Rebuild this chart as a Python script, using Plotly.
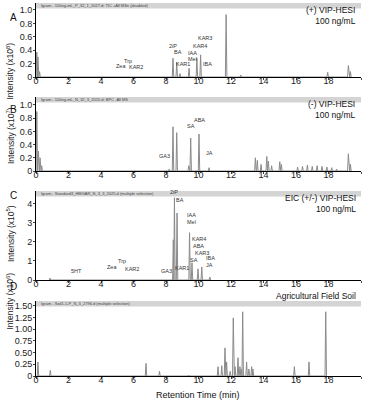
import plotly.graph_objects as go
from plotly.subplots import make_subplots

# ---------------- data ----------------
# Panel A: (+) VIP-HESI TIC, intensity x10^8
A_times   = [0.05, 0.12, 0.22, 8.43, 8.66, 8.86, 9.42, 9.90, 10.13, 11.70, 12.60, 17.95, 19.22, 19.35]
A_heights = [0.37, 0.30, 0.08, 0.28, 0.22, 0.05, 0.13, 0.28, 0.33, 0.93, 0.03, 0.07, 0.17, 0.08]
A_labels  = ["Zea", "Trp", "KAR2", "2iP", "BA", "KAR1", "IAA", "Mel", "KAR4", "KAR3", "IBA"]
A_lab_x   = [5.20, 5.66, 6.15, 8.40, 8.75, 9.05, 9.66, 9.66, 10.10, 10.40, 10.55]
A_lab_y   = [0.16, 0.24, 0.15, 0.46, 0.37, 0.20, 0.36, 0.27, 0.46, 0.58, 0.20]

# Panel B: (-) VIP-HESI BPC, intensity x10^7
B_times   = [0.05, 0.15, 0.25, 0.35, 8.20, 8.43, 8.66, 9.40, 9.52, 10.03, 10.65,
             13.50, 13.62, 13.85, 14.20, 14.30, 14.50, 15.00, 15.10,
             16.10, 16.40, 16.70, 17.00, 17.30, 17.60, 17.90, 18.20, 18.50, 19.22, 19.35]
B_heights = [0.90, 0.30, 0.20, 0.08, 0.03, 0.67, 0.58, 0.08, 0.50, 0.56, 0.05,
             0.20, 0.16, 0.10, 0.22, 0.15, 0.08, 0.14, 0.10,
             0.06, 0.07, 0.09, 0.07, 0.08, 0.07, 0.06, 0.05, 0.03, 0.26, 0.10]
B_labels  = ["GA3", "SA", "ABA", "JA"]
B_lab_x   = [7.90, 9.55, 10.05, 10.70]
B_lab_y   = [0.23, 0.68, 0.77, 0.27]

# Panel C: EIC (+/-) VIP-HESI, intensity x10^5
C_times   = [0.86, 8.45, 8.52, 8.68, 9.45, 9.60, 9.97, 10.20, 10.70]
C_heights = [0.10, 2.10, 4.30, 3.50, 2.47, 0.90, 0.58, 0.68, 0.15]
C_labels  = ["5HT", "Zea", "Trp", "KAR2", "GA3", "2iP", "BA", "IAA", "Mel",
             "KAR4", "ABA", "KAR3", "SA", "IBA", "JA", "KAR1"]
C_lab_x   = [2.50, 4.70, 5.30, 5.90, 8.05, 8.50, 8.86, 9.55, 9.55,
             10.00, 10.00, 10.20, 9.70, 10.75, 10.70, 9.00]
C_lab_y   = [0.47, 0.70, 1.00, 0.60, 0.47, 4.60, 4.17, 3.40, 3.05,
             2.15, 1.80, 1.40, 1.05, 1.15, 0.80, 0.63]

# Panel D: Agricultural field soil, intensity x10^6
D_times   = [0.12, 0.88, 6.77, 7.60, 9.40, 11.20, 11.43, 11.63, 11.73, 11.95, 12.14,
             12.25, 12.43, 12.55, 12.65, 12.72, 12.96, 13.10, 13.27, 13.35,
             15.90, 16.80, 17.83]
D_heights = [0.30, 0.12, 0.27, 0.10, 0.02, 0.20, 0.22, 0.60, 0.30, 0.10, 1.24,
             0.20, 0.39, 0.20, 0.15, 1.37, 0.30, 0.15, 0.20, 0.15,
             0.20, 0.30, 1.37]

A_yticks = [0, 0.2, 0.4, 0.6, 0.8, 1.0]
A_yticktext = ["0", "0.2", "0.4", "0.6", "0.8", "1.0"]
C_yticks = [0, 1, 2, 3, 4]
C_yticktext = ["0", "1", "2", "3", "4"]
D_yticks = [0, 0.25, 0.5, 0.75, 1.0, 1.25, 1.5]
D_yticktext = ["0", "0.25", "0.50", "0.75", "1.00", "1.25", "1.50"]
x_ticks = [0, 2, 4, 6, 8, 10, 12, 14, 16, 18, 20]

y_titles = ["Intensity (x10<sup>8</sup>)", "Intensity (x10<sup>7</sup>)",
            "Intensity (x10<sup>5</sup>)", "Intensity (x10<sup>6</sup>)"]
headers = ["Igram - 100ng-mL_P_32_1_2027.d: TIC +All MSn (disabled)",
           "Igram - 100ng-mL_N_32_3_2015.d: BPC -All MS",
           "Igram - Standard3_HMGAR_N_3_3_2025.d (multiple selection)",
           "Igram - Soil1-1-P_N_3_2796.d (multiple selection)"]
corner_texts = ["(+) VIP-HESI<br>100 ng/mL", "(-) VIP-HESI<br>100 ng/mL",
                "EIC (+/-) VIP-HESI<br>100 ng/mL"]

# ---------------- layout geometry ----------------
W, H = 366, 400
ML, MR, MT, MB = 36, 5, 2, 24
PH = H - MT - MB
PW = W - ML - MR
def dom(top_px, bot_px):
    return [(H - MB - bot_px) / PH, (H - MB - top_px) / PH]

domains = [dom(3, 77), dom(97, 171), dom(191, 280), dom(301, 376)]
yranges = [[0, 1.104], [0, 1.12], [0, 4.65], [0, 1.6]]
ytitle_px = [41, 136, 234, 332]

FONT = "Liberation Sans, Arial, sans-serif"
LINE = "#8a8a8a"
W_PEAK = 0.045

def trace_xy(times, heights):
    pts = sorted(zip(times, heights))
    xs, ys = [], []
    for t, h in pts:
        xs += [max(t - W_PEAK, 0), t, t + W_PEAK]
        ys += [0, h, 0]
    return xs, ys

fig = make_subplots(rows=4, cols=1)

series = [(A_times, A_heights), (B_times, B_heights), (C_times, C_heights), (D_times, D_heights)]
for i, (t, h) in enumerate(series):
    xs, ys = trace_xy(t, h)
    fig.add_trace(go.Scatter(x=xs, y=ys, mode="lines", line=dict(color=LINE, width=1),
                             hoverinfo="skip", showlegend=False), row=i + 1, col=1)

ytick_sets = [(A_yticks, A_yticktext), (A_yticks, A_yticktext),
              (C_yticks, C_yticktext), (D_yticks, D_yticktext)]

for i in range(4):
    n = "" if i == 0 else str(i + 1)
    fig.layout["xaxis" + n].update(
        domain=[0, 1], range=[0, 20], tickvals=x_ticks, ticks="outside", ticklen=2,
        ticklabelstandoff=-7,
        showline=True, linecolor="black", linewidth=1, showgrid=False, zeroline=False,
        tickfont=dict(size=9, color="#222", family=FONT))
    tv, tt = ytick_sets[i]
    fig.layout["yaxis" + n].update(
        domain=domains[i], range=yranges[i], tickvals=tv, ticktext=tt, ticks="outside",
        ticklen=2, ticklabelstandoff=-1, showline=True, linecolor="black", linewidth=1,
        showgrid=False, zeroline=False, tickfont=dict(size=9, color="#222", family=FONT))
    # gray header bar
    hb = 5.5 / ((domains[i][1] - domains[i][0]) * PH)
    fig.add_shape(type="rect", xref="x" + n + " domain", yref="y" + n + " domain",
                  x0=0, x1=1, y0=1 - hb, y1=1, fillcolor="#d4d4d4", line=dict(width=0),
                  layer="below")
    fig.add_annotation(xref="x" + n + " domain", yref="y" + n + " domain", x=0.01, y=1 - hb / 2,
                       text=headers[i], showarrow=False, xanchor="left", yanchor="middle",
                       font=dict(size=4, color="#444", family=FONT))
    # y-axis title
    fig.add_annotation(xref="paper", yref="paper", x=(10 - ML) / PW,
                       y=(H - MB - ytitle_px[i]) / PH,
                       xanchor="center", text=y_titles[i], textangle=-90, showarrow=False,
                       font=dict(size=8.5, color="#222", family=FONT))

# corner texts
for i, txt in enumerate(corner_texts):
    n = "" if i == 0 else str(i + 1)
    fig.add_annotation(xref="x" + n + " domain", yref="y" + n + " domain", x=0.99, y=1.0,
                       text=txt, showarrow=False, xanchor="right", yanchor="top", align="right",
                       font=dict(size=8.5, color="#111", family=FONT))
fig.add_annotation(xref="x4 domain", yref="paper", x=0.99, y=(H - MB - 295.5) / PH,
                   text="Agricultural Field Soil", showarrow=False, xanchor="right",
                   yanchor="middle", font=dict(size=8.5, color="#111", family=FONT))

# peak labels
for i, (labs, lx, ly) in enumerate([(A_labels, A_lab_x, A_lab_y), (B_labels, B_lab_x, B_lab_y),
                                    (C_labels, C_lab_x, C_lab_y)]):
    n = "" if i == 0 else str(i + 1)
    for s, x, y in zip(labs, lx, ly):
        fig.add_annotation(xref="x" + n, yref="y" + n, x=x, y=y, text=s, showarrow=False,
                           font=dict(size=5.5, color="#333", family=FONT))

# panel letters
for letter, ypx in zip(["A", "B", "C", "D"], [10, 102, 195, 294]):
    fig.add_annotation(xref="paper", yref="paper", x=(8 - ML) / PW,
                       y=(H - MB - ypx) / PH, text=letter, showarrow=False,
                       font=dict(size=10, color="#111", family=FONT))

# x-axis title
fig.add_annotation(xref="paper", yref="paper", x=(198 - ML) / PW,
                   y=(H - MB - 394.5) / PH, text="Retention Time (min)", showarrow=False,
                   yanchor="middle", font=dict(size=9, color="#111", family=FONT))

fig.update_layout(width=W, height=H, margin=dict(l=ML, r=MR, t=MT, b=MB),
                  paper_bgcolor="white", plot_bgcolor="white",
                  font=dict(family=FONT))

fig.write_html("out.html", config={"displayModeBar": False},
               post_script="document.body.style.margin='0';document.body.style.padding='0';")
